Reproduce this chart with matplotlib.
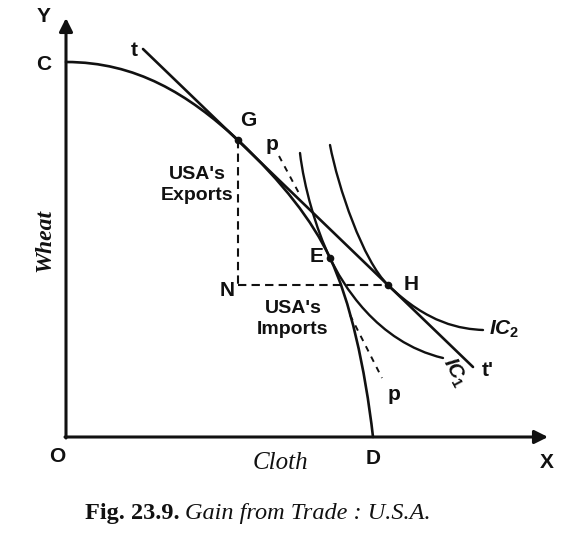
import matplotlib
matplotlib.use("Agg")
import matplotlib.pyplot as plt
from matplotlib.path import Path
from matplotlib.patches import PathPatch

# ---- data (units: O = origin) ----
Y_TOP, X_END = 419, 482
C_PT, D_PT = (0, 375), (307, 0)
G_PT, E_PT, H_PT, N_PT = (172, 297), (264, 179), (322, 152), (172, 152)

# production possibility curve C -> G -> E -> D (cubic bezier control points)
PPC = [C_PT, (70, 375), (122, 343), G_PT,
       (217, 254), (246, 217), E_PT,
       (284, 137), (299, 70), D_PT]
# indifference curves
IC1 = [(234, 284), (238, 250), (250, 208), E_PT,
       (276, 154), (310, 95), (377, 79)]
IC2 = [(264, 292), (272, 250), (297, 176), H_PT,
       (362, 113), (395, 108), (417, 107)]
# terms of trade line t-t'
TT = [(77, 388), (407, 70)]
# domestic price line p-p (visible dashed pieces)
PP_UP = [(213, 281), (235, 240)]
PP_LO = [(284, 122), (316, 59)]

INK = "#111111"
SANS = ["Liberation Sans", "DejaVu Sans"]
SERIF = ["Liberation Serif", "DejaVu Serif"]

plt.rcParams.update({
    "mathtext.fontset": "custom",
    "mathtext.it": "Liberation Sans:italic:bold",
    "mathtext.rm": "Liberation Sans:bold",
})

fig = plt.figure(figsize=(5.74, 5.42), dpi=100)
fig.patch.set_facecolor("white")
ax = fig.add_axes([0, 0, 1, 1])
ax.set_xlim(-66, 508)
ax.set_ylim(-105, 437)
ax.axis("off")


def bez(pts, lw=1.7):
    codes = [Path.MOVETO] + [Path.CURVE4] * (len(pts) - 1)
    ax.add_patch(PathPatch(Path(pts, codes), facecolor="none",
                           edgecolor=INK, lw=lw, capstyle="round"))


# axes with arrow heads
ax.annotate("", xy=(0, Y_TOP), xytext=(0, -1),
            arrowprops=dict(arrowstyle="-|>", lw=2.2, color=INK,
                            mutation_scale=20, shrinkA=0, shrinkB=0))
ax.annotate("", xy=(X_END, 0), xytext=(-1, 0),
            arrowprops=dict(arrowstyle="-|>", lw=2.2, color=INK,
                            mutation_scale=20, shrinkA=0, shrinkB=0))

bez(PPC, 1.9)
bez(IC1)
bez(IC2)
ax.plot(*zip(*TT), color=INK, lw=1.9, solid_capstyle="round")
for seg in (PP_UP, PP_LO):
    ax.plot(*zip(*seg), color=INK, lw=1.4, ls=(0, (3, 3)))

# trade triangle
DASH = (0, (4, 2.5))
ax.plot([G_PT[0], N_PT[0]], [G_PT[1], N_PT[1]], color=INK, lw=1.5, ls=DASH)
ax.plot([N_PT[0], H_PT[0]], [N_PT[1], H_PT[1]], color=INK, lw=1.5, ls=DASH)
for p in (G_PT, E_PT, H_PT):
    ax.plot(*p, "o", color=INK, ms=4.5)

# labels
lab = dict(fontsize=15, color=INK, family=SANS, weight="bold",
           ha="center", va="center")
ax.text(-22, 421, "Y", **lab)
ax.text(-22, 373, "C", **lab)
ax.text(-9, -20, "O", **lab)
ax.text(307, -21, "D", **lab)
ax.text(481, -25, "X", **lab)
ax.text(68, 387, "t", **lab)
ax.text(182, 316, "G", **lab)
ax.text(206, 292, "p", **lab)
ax.text(251, 180, "E", **lab)
ax.text(161, 146, "N", **lab)
ax.text(345, 152, "H", **lab)
ax.text(328, 42, "p", **lab)
ax.text(422, 66, "t'", **lab)
ax.text(131, 252, "USA's\nExports", fontsize=14, color=INK, weight="bold",
        family=SANS, ha="center", va="center", linespacing=1.3)
ax.text(227, 118, "USA's\nImports", fontsize=14, color=INK, weight="bold",
        family=SANS, ha="center", va="center", linespacing=1.3)
ax.text(438, 108, r"$IC_2$", fontsize=15, color=INK, ha="center",
        va="center")
ax.text(389, 65, r"$IC_1$", fontsize=15, color=INK, ha="center",
        va="center", rotation=-62)

ax.text(-21, 197, "Wheat", fontsize=17, color=INK, family=SERIF,
        style="italic", weight="bold", rotation=90, ha="center",
        va="center")
ax.text(214, -26, "Cloth", fontsize=18, color=INK, family=SERIF,
        style="italic", ha="center", va="center")

# caption: bold figure number + italic title
r = fig.canvas.get_renderer()
t1 = ax.text(19, -77, "Fig. 23.9.", fontsize=17.5, color=INK,
             family=SERIF, weight="bold", ha="left", va="center")
bb = t1.get_window_extent(r)
x1 = ax.transData.inverted().transform((bb.x1, bb.y0))[0]
ax.text(x1 + 5, -77, "Gain from Trade : U.S.A.", fontsize=17.5,
        color=INK, family=SERIF, style="italic", ha="left", va="center")

fig.savefig("out.png", dpi=100, facecolor="white")
